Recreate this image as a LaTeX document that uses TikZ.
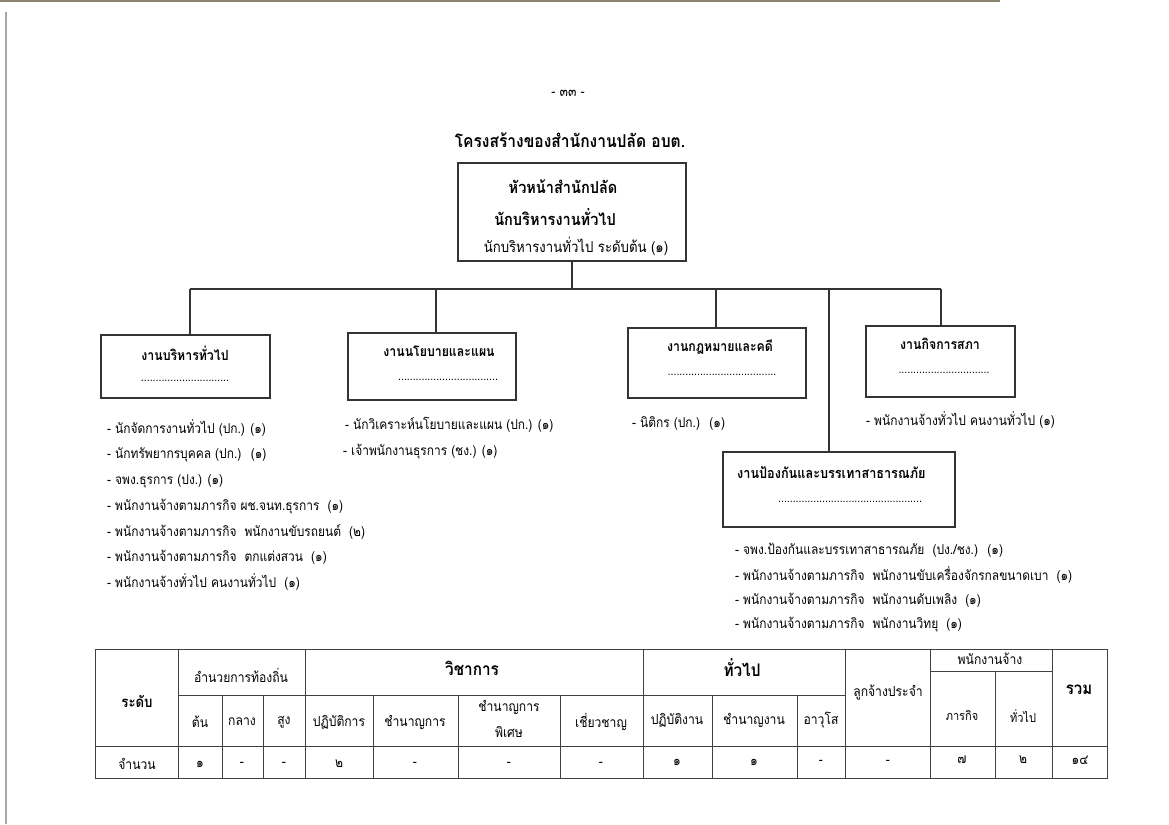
\documentclass[tikz,border=0pt]{standalone}
\usepackage{fontspec}
\setmainfont[Script=Thai,FakeStretch=0.88]{Loma}
\definecolor{scanedge}{RGB}{140,130,112}
\begin{document}
\begin{tikzpicture}[x=1pt,y=-1pt,
  ln/.style={line width=1.2pt,draw=black!80},
  box/.style={ln,rectangle,inner sep=0pt},
  tl/.style={inner sep=0pt,anchor=center},
  li/.style={inner sep=0pt,anchor=west,font=\fontsize{13.6}{15}\selectfont},
  hd/.style={inner sep=0pt,font=\bfseries\fontsize{14}{16}\selectfont},
  dt/.style={inner sep=0pt,font=\fontsize{12}{13}\selectfont},
  th/.style={inner sep=0pt,font=\fontsize{13.8}{15}\selectfont},
  tg/.style={line width=0.9pt,draw=black!75}]
\useasboundingbox (0,0) rectangle (1169,824);
\fill[white] (0,0) rectangle (1169,824);
% scan edges
\fill[scanedge] (0,0) rectangle (1000,2.5);
\draw[black!35,line width=1.2pt] (6,12) -- (6,824);
% page number and title
\node[tl,font=\fontsize{14}{16}\selectfont] (pg) at (568,93) {- ๓๓ -};
\node[tl,font=\bfseries\fontsize{17.7}{20}\selectfont] (title) at (570,140) {โครงสร้างของสำนักงานปลัด อบต.};
% top box
\node[box,minimum width=228pt,minimum height=98pt] (top) at (572,212) {};
\node[hd,font=\bfseries\fontsize{16.5}{18}\selectfont] (t1) at (563,187) {หัวหน้าสำนักปลัด};
\node[hd,font=\bfseries\fontsize{16.5}{18}\selectfont] (t2) at (555,217) {นักบริหารงานทั่วไป};
\node[tl,font=\fontsize{15}{17}\selectfont] (t3) at (576,246) {นักบริหารงานทั่วไป ระดับต้น (๑)};
% unit boxes
\node[box,minimum width=169pt,minimum height=63pt] (b1) at (185.5,366.5) {};
\node[box,minimum width=168pt,minimum height=67pt] (b2) at (432,366.5) {};
\node[box,minimum width=178pt,minimum height=70pt] (b3) at (717,363) {};
\node[box,minimum width=149pt,minimum height=71pt] (b4) at (940.5,361.5) {};
\node[box,minimum width=232pt,minimum height=75pt] (b5) at (839,489.5) {};
\node[hd] (h1) at (185,353) {งานบริหารทั่วไป};
\node[hd] (h2) at (439,351) {งานนโยบายและแผน};
\node[hd] (h3) at (720,347) {งานกฎหมายและคดี};
\node[hd] (h4) at (940,344) {งานกิจการสภา};
\node[hd,anchor=west,font=\bfseries\fontsize{14.4}{16}\selectfont] (h5) at (737,473) {งานป้องกันและบรรเทาสาธารณภัย};
\node[dt] (d1) at (185,381) {..............................};
\node[dt] (d2) at (448,380) {..................................};
\node[dt] (d3) at (722,375) {.....................................};
\node[dt] (d4) at (944,373) {...............................};
\node[dt] (d5) at (850,502) {.................................................};
% connectors
\coordinate (busL) at (190,289);
\coordinate (busR) at (941,289);
\coordinate (j2) at (436,289);
\coordinate (j3) at (716,289);
\coordinate (j5) at (829,289);
\draw[ln] (top.south) -- (top.south |- busL);
\draw[ln] (busL) -- (busR);
\draw[ln] (busL) -- (busL |- b1.north);
\draw[ln] (j2) -- (j2 |- b2.north);
\draw[ln] (j3) -- (j3 |- b3.north);
\draw[ln] (j5) -- (j5 |- b5.north);
\draw[ln] (busR) -- (busR |- b4.north);
% lists
\node[li] (l11) at (107,428) {- นักจัดการงานทั่วไป (ปก.) (๑)};
\node[li] (l12) at (107,455) {- นักทรัพยากรบุคคล (ปก.) \ (๑)};
\node[li] (l13) at (107,481) {- จพง.ธุรการ (ปง.) (๑)};
\node[li] (l14) at (107,507) {- พนักงานจ้างตามภารกิจ ผช.จนท.ธุรการ \ (๑)};
\node[li] (l15) at (107,532) {- พนักงานจ้างตามภารกิจ \ พนักงานขับรถยนต์ \ (๒)};
\node[li] (l16) at (107,557) {- พนักงานจ้างตามภารกิจ \ ตกแต่งสวน \ (๑)};
\node[li] (l17) at (107,582) {- พนักงานจ้างทั่วไป คนงานทั่วไป \ (๑)};
\node[li] (l21) at (345,425) {- นักวิเคราะห์นโยบายและแผน (ปก.) (๑)};
\node[li] (l22) at (343,452) {- เจ้าพนักงานธุรการ (ชง.) (๑)};
\node[li] (l31) at (632,423) {- นิติกร (ปก.) \ (๑)};
\node[li] (l41) at (866,420) {- พนักงานจ้างทั่วไป คนงานทั่วไป (๑)};
\node[li] (l51) at (735,550) {- จพง.ป้องกันและบรรเทาสาธารณภัย \ (ปง./ชง.) \ (๑)};
\node[li] (l52) at (735,575) {- พนักงานจ้างตามภารกิจ \ พนักงานขับเครื่องจักรกลขนาดเบา \ (๑)};
\node[li] (l53) at (735,600) {- พนักงานจ้างตามภารกิจ \ พนักงานดับเพลิง \ (๑)};
\node[li] (l54) at (735,625) {- พนักงานจ้างตามภารกิจ \ พนักงานวิทยุ \ (๑)};
% table grid
\draw[tg] (95,649) rectangle (1107,778);
\draw[tg] (178,695) -- (845,695);
\draw[tg] (930,671) -- (1052,671);
\draw[tg] (95,746) -- (1107,746);
\foreach \x in {178,305,643,845,930,1052} \draw[tg] (\x,649) -- (\x,778);
\foreach \x in {222,263,373,458,560,712,797} \draw[tg] (\x,695) -- (\x,778);
\draw[tg] (995,671) -- (995,778);
% table headers
\node[hd,font=\bfseries\fontsize{15}{17}\selectfont] (c0) at (137,701) {ระดับ};
\node[th] (g1) at (241,675) {อำนวยการท้องถิ่น};
\node[hd,font=\bfseries\fontsize{17.4}{19}\selectfont] (g2) at (472,668) {วิชาการ};
\node[hd,font=\bfseries\fontsize{17.4}{19}\selectfont] (g3) at (742,668) {ทั่วไป};
\node[th] (g4) at (888,693) {ลูกจ้างประจำ};
\node[th] (g5) at (990,659) {พนักงานจ้าง};
\node[hd,font=\bfseries\fontsize{17}{19}\selectfont] (g6) at (1079,690) {รวม};
\node[th] (s1) at (200,722) {ต้น};
\node[th] (s2) at (242,722) {กลาง};
\node[th] (s3) at (284,722) {สูง};
\node[th] (s4) at (339,722) {ปฏิบัติการ};
\node[th] (s5) at (415,722) {ชำนาญการ};
\node[th] (s6a) at (509,707) {ชำนาญการ};
\node[th] (s6b) at (509,732) {พิเศษ};
\node[th] (s7) at (601,722) {เชี่ยวชาญ};
\node[th] (s8) at (677,720) {ปฏิบัติงาน};
\node[th] (s9) at (754,720) {ชำนาญงาน};
\node[th] (s10) at (821,720) {อาวุโส};
\node[th,font=\fontsize{12.5}{14}\selectfont] (s11) at (962,716) {ภารกิจ};
\node[th,font=\fontsize{12.5}{14}\selectfont] (s12) at (1023,716) {ทั่วไป};
% data row
\node[th] (r0) at (137,764) {จำนวน};
\node[th] (r1) at (200,764) {๑};
\node[th] (r2) at (242,764) {-};
\node[th] (r3) at (284,764) {-};
\node[th] (r4) at (339,764) {๒};
\node[th] (r5) at (415,764) {-};
\node[th] (r6) at (509,764) {-};
\node[th] (r7) at (601,764) {-};
\node[th] (r8) at (677,762) {๑};
\node[th] (r9) at (754,762) {๑};
\node[th] (r10) at (821,762) {-};
\node[th] (r11) at (888,762) {-};
\node[th] (r12) at (962,760) {๗};
\node[th] (r13) at (1023,760) {๒};
\node[th] (r14) at (1080,760) {๑๔};
\end{tikzpicture}
\end{document}
